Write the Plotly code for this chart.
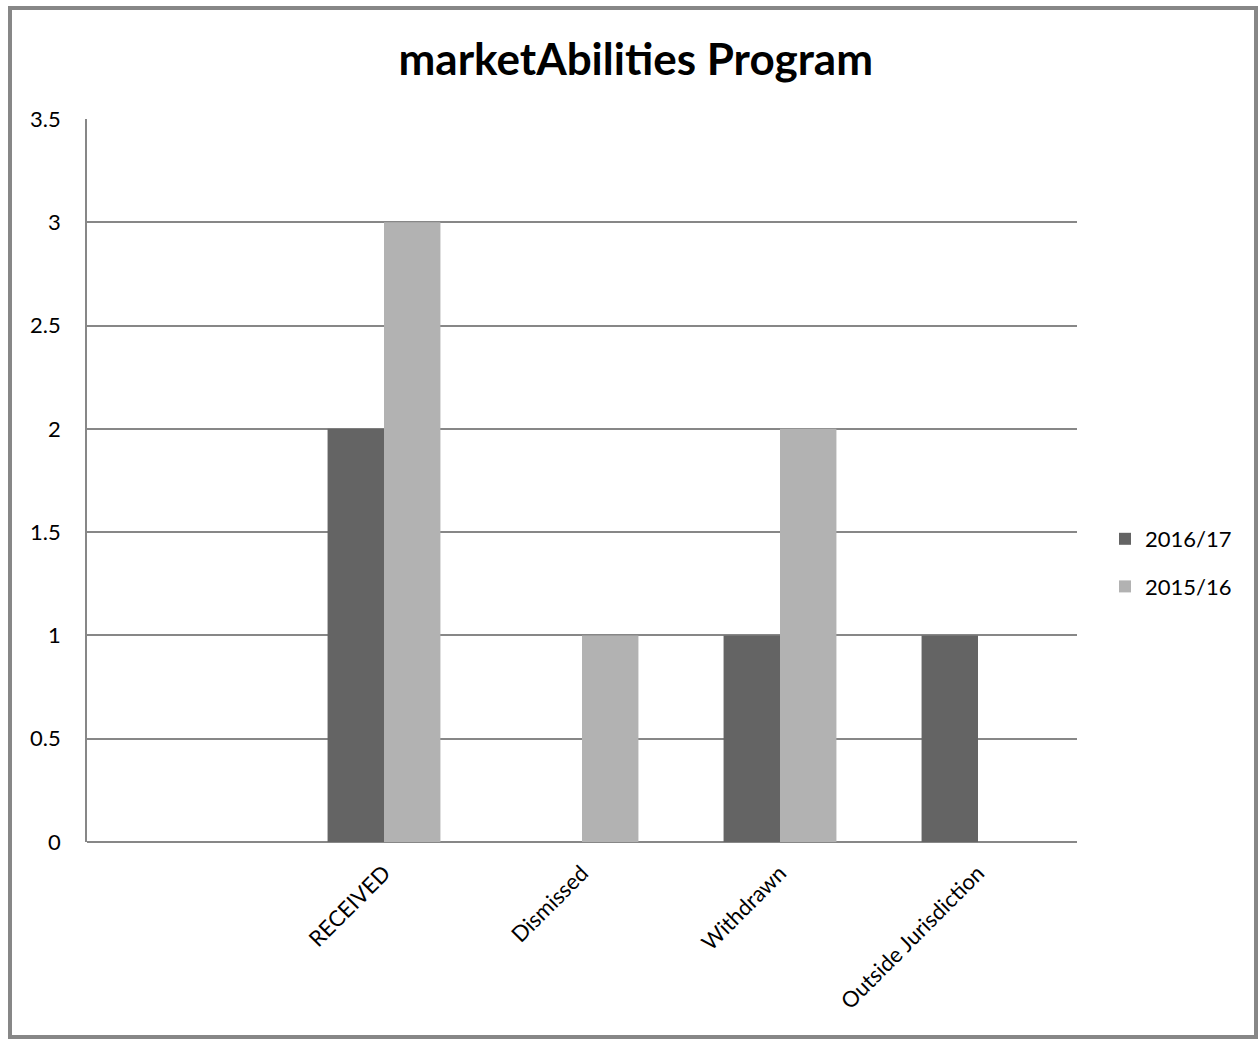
import plotly.graph_objects as go

categories = [" ", "RECEIVED", "Dismissed", "Withdrawn", "Outside Jurisdiction"]
series_names = ["2016/17", "2015/16"]
values_1617 = [None, 2, None, 1, 1]
values_1516 = [None, 3, 1, 2, None]
colors = ["#646464", "#b2b2b2"]
y_ticks = [0, 0.5, 1, 1.5, 2, 2.5, 3, 3.5]
y_tick_text = ["0", "0.5", "1", "1.5", "2", "2.5", "3", "3.5"]

FONT = "Lato, Calibri, Carlito, sans-serif"

fig = go.Figure()
for i, (name, vals, col) in enumerate(zip(series_names, [values_1617, values_1516], colors)):
    fig.add_trace(go.Bar(x=categories, y=vals, name=name, legendgroup=f"g{i}",
                         marker=dict(color=col, line=dict(width=0))))

W, H = 1259, 1040
L, R, T, B = 87, 1077, 119, 842
pw, ph = R - L, B - T

def px(x):
    return (x - L) / pw

def py(y):
    return (B - y) / ph

fig.update_layout(
    width=W, height=H,
    margin=dict(l=L, r=W - R, t=T, b=H - B),
    paper_bgcolor="white", plot_bgcolor="white",
    barmode="group", bargap=0.43, bargroupgap=0,
    title=dict(text="<b>marketAbilities Program</b>", x=0.505, xanchor="center",
               y=1 - 60 / H, yanchor="middle",
               font=dict(family=FONT, size=44, color="black")),
    font=dict(family=FONT, size=22, color="black"),
    showlegend=True,
    legend=dict(x=px(1105), y=py(518), xanchor="left", yanchor="top",
                font=dict(family=FONT, size=22, color="black"),
                itemwidth=30, tracegroupgap=16, bgcolor="rgba(0,0,0,0)"),
    xaxis=dict(type="category", tickangle=-45, showgrid=False, ticks="",
               showline=False, ticklabelstandoff=13,
               tickfont=dict(family=FONT, size=22)),
    yaxis=dict(range=[0, 3.5], tickvals=y_ticks, ticktext=y_tick_text,
               showgrid=True, gridcolor="#878787", gridwidth=1.6,
               zeroline=True, zerolinecolor="#878787", zerolinewidth=1.6,
               showline=True, linecolor="#878787", linewidth=1.6,
               ticks="", ticklabelstandoff=20,
               tickfont=dict(family=FONT, size=22)),
)

# outer chart frame
fig.add_shape(type="rect", xref="paper", yref="paper",
              x0=px(10), x1=px(1256), y0=py(1037), y1=py(8),
              line=dict(color="#878787", width=4), fillcolor="rgba(0,0,0,0)", layer="below")

fig.write_html("out.html", config={"displayModeBar": False},
               post_script="document.body.style.margin='0px';")
